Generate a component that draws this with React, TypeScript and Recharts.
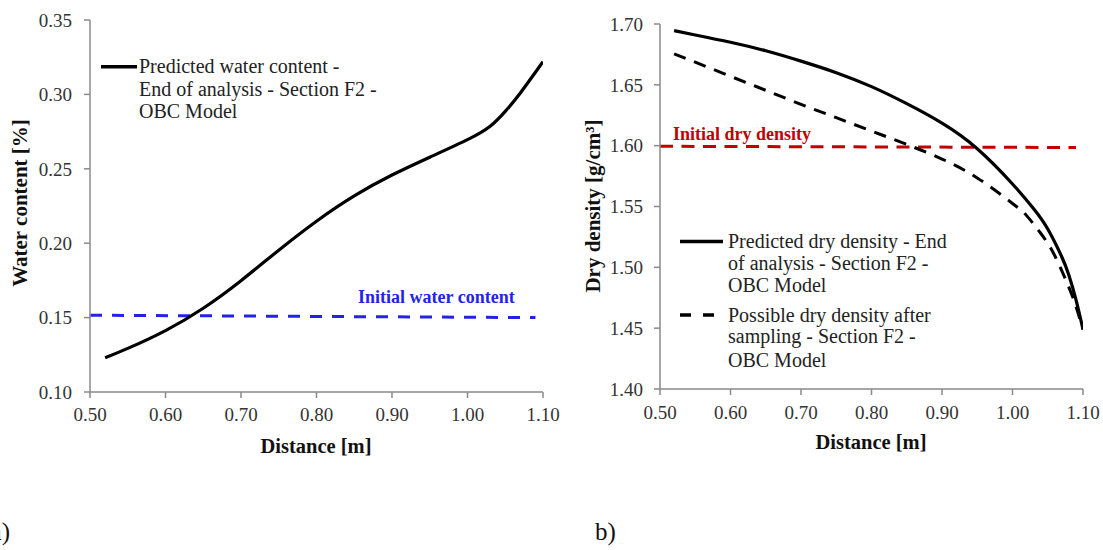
import React from "react";
import { LineChart, Line, XAxis, YAxis } from "recharts";

// a) water content along the distance
const distWater = [0.52, 0.55, 0.6, 0.65, 0.7, 0.75, 0.8, 0.85, 0.9, 0.95, 1.0, 1.03, 1.05, 1.07, 1.1];
const waterPredicted = [0.123, 0.1293, 0.1413, 0.1563, 0.1748, 0.1953, 0.2148, 0.2318, 0.2458, 0.2578, 0.2696, 0.2786, 0.2886, 0.301, 0.322];
const distWaterInit = [0.5, 1.09];
const waterInit = [0.1516, 0.15];

// b) dry density along the distance
const distDensity = [0.52, 0.55, 0.6, 0.65, 0.7, 0.75, 0.8, 0.85, 0.9, 0.95, 1.0, 1.03, 1.05, 1.07, 1.08, 1.09, 1.1];
const densityPredicted = [1.6945, 1.691, 1.685, 1.678, 1.6695, 1.66, 1.6485, 1.6345, 1.6185, 1.5975, 1.5685, 1.5481, 1.5315, 1.5085, 1.4935, 1.4735, 1.449];
const distSampling = [0.52, 0.55, 0.6, 0.65, 0.7, 0.75, 0.8, 0.85, 0.9, 0.95, 1.0, 1.02, 1.04, 1.06, 1.08, 1.09, 1.1];
const densitySampling = [1.6755, 1.6686, 1.657, 1.6455, 1.634, 1.623, 1.612, 1.601, 1.589, 1.5735, 1.5525, 1.5425, 1.528, 1.5095, 1.4835, 1.468, 1.449];
const distDensityInit = [0.5, 1.09];
const densityInit = [1.5995, 1.5985];

// ticks
const distTicks = [0.5, 0.6, 0.7, 0.8, 0.9, 1.0, 1.1];
const distMinor = [0.55, 0.65, 0.75, 0.85, 0.95, 1.05];
const waterTicks = [0.1, 0.15, 0.2, 0.25, 0.3, 0.35];
const waterMinor = [0.125, 0.175, 0.225, 0.275, 0.325];
const densityTicks = [1.4, 1.45, 1.5, 1.55, 1.6, 1.65, 1.7];
const densityMinor = [1.425, 1.475, 1.525, 1.575, 1.625, 1.675];

const FONT = "Liberation Serif, DejaVu Serif, serif";
const AXIS = "#8a8a8a";
const TXT = "#333";
const BLUE = "#2323e8";
const RED = "#c00000";

const toPoints = (xs: number[], ys: number[]) => xs.map((x, i) => ({ x, y: ys[i] }));
const fmt = (v: number) => v.toFixed(2);
const tickStyle = { fill: TXT, fontSize: 19, fontFamily: FONT };

const WaterChart = () => (
  <LineChart width={560} height={550} margin={{ top: 20, right: 17, left: 30, bottom: 128 }} style={{ fontFamily: FONT }}>
    <XAxis xAxisId="main" type="number" dataKey="x" domain={[0.5, 1.1]} ticks={distTicks} tickFormatter={fmt}
      height={30} tickSize={6} tickMargin={10} stroke={AXIS} strokeWidth={1.5} tick={tickStyle} allowDataOverflow />
    <XAxis xAxisId="minor" type="number" dataKey="x" domain={[0.5, 1.1]} ticks={distMinor} mirror height={0}
      tick={false} axisLine={false} tickSize={5} stroke={AXIS} strokeWidth={1.5} allowDataOverflow />
    <XAxis xAxisId="top" orientation="top" type="number" dataKey="x" domain={[0.5, 1.1]} height={0}
      tick={false} tickLine={false} axisLine={{ stroke: "#222", strokeWidth: 1.5 }} allowDataOverflow />
    <YAxis yAxisId="main" type="number" domain={[0.1, 0.35]} ticks={waterTicks} tickFormatter={fmt}
      width={60} tickSize={6} tickMargin={12} stroke={AXIS} strokeWidth={1.5} tick={tickStyle} allowDataOverflow />
    <YAxis yAxisId="minor" type="number" domain={[0.1, 0.35]} ticks={waterMinor} mirror width={0}
      tick={false} axisLine={false} tickSize={5} stroke={AXIS} strokeWidth={1.5} allowDataOverflow />
    <YAxis yAxisId="right" orientation="right" type="number" domain={[0.1, 0.35]} width={0}
      tick={false} tickLine={false} axisLine={{ stroke: "#222", strokeWidth: 1.5 }} allowDataOverflow />
    <Line xAxisId="main" yAxisId="main" data={toPoints(distWaterInit, waterInit)} dataKey="y" type="linear"
      stroke={BLUE} strokeWidth={3} strokeDasharray="12 10" dot={false} isAnimationActive={false} />
    <Line xAxisId="main" yAxisId="main" data={toPoints(distWater, waterPredicted)} dataKey="y" type="natural"
      stroke="#000" strokeWidth={3.2} dot={false} isAnimationActive={false} />
  </LineChart>
);

const DensityChart = () => (
  <LineChart width={543} height={550} margin={{ top: 24, right: 20, left: 40, bottom: 131 }} style={{ fontFamily: FONT }}>
    <XAxis xAxisId="main" type="number" dataKey="x" domain={[0.5, 1.1]} ticks={distTicks} tickFormatter={fmt}
      height={30} tickSize={6} tickMargin={11} stroke={AXIS} strokeWidth={1.5} tick={tickStyle} allowDataOverflow />
    <XAxis xAxisId="minor" type="number" dataKey="x" domain={[0.5, 1.1]} ticks={distMinor} mirror height={0}
      tick={false} axisLine={false} tickSize={5} stroke={AXIS} strokeWidth={1.5} allowDataOverflow />
    <XAxis xAxisId="top" orientation="top" type="number" dataKey="x" domain={[0.5, 1.1]} height={0}
      tick={false} tickLine={false} axisLine={{ stroke: AXIS, strokeWidth: 1.5 }} allowDataOverflow />
    <YAxis yAxisId="main" type="number" domain={[1.4, 1.7]} ticks={densityTicks} tickFormatter={fmt}
      width={60} tickSize={6} tickMargin={11} stroke={AXIS} strokeWidth={1.5} tick={tickStyle} allowDataOverflow />
    <YAxis yAxisId="minor" type="number" domain={[1.4, 1.7]} ticks={densityMinor} mirror width={0}
      tick={false} axisLine={false} tickSize={5} stroke={AXIS} strokeWidth={1.5} allowDataOverflow />
    <YAxis yAxisId="right" orientation="right" type="number" domain={[1.4, 1.7]} width={0}
      tick={false} tickLine={false} axisLine={{ stroke: AXIS, strokeWidth: 1.5 }} allowDataOverflow />
    <Line xAxisId="main" yAxisId="main" data={toPoints(distDensityInit, densityInit)} dataKey="y" type="linear"
      stroke={RED} strokeWidth={3} strokeDasharray="13 8.5" dot={false} isAnimationActive={false} />
    <Line xAxisId="main" yAxisId="main" data={toPoints(distSampling, densitySampling)} dataKey="y" type="natural"
      stroke="#000" strokeWidth={3} strokeDasharray="12.5 9" dot={false} isAnimationActive={false} />
    <Line xAxisId="main" yAxisId="main" data={toPoints(distDensity, densityPredicted)} dataKey="y" type="natural"
      stroke="#000" strokeWidth={3.2} dot={false} isAnimationActive={false} />
  </LineChart>
);

const Overlay = () => (
  <svg width={1103} height={550} style={{ position: "absolute", left: 0, top: 0, pointerEvents: "none", fontFamily: FONT }}>
    {/* axis titles */}
    <text x={27} y={203} transform="rotate(-90 27 203)" textAnchor="middle" fontSize={21} fontWeight="bold" fill="#111">
      Water content [%]
    </text>
    <text x={316} y={452.5} textAnchor="middle" fontSize={20.5} fontWeight="bold" fill="#111">Distance [m]</text>
    <text x={600} y={206} transform="rotate(-90 600 206)" textAnchor="middle" fontSize={21} fontWeight="bold" fill="#111">
      Dry density [g/cm³]
    </text>
    <text x={871} y={448.5} textAnchor="middle" fontSize={20.5} fontWeight="bold" fill="#111">Distance [m]</text>

    {/* reference labels */}
    <text x={358} y={302.5} fontSize={18} fontWeight="bold" fill={BLUE}>Initial water content</text>
    <text x={673} y={140} fontSize={18} fontWeight="bold" fill={RED}>Initial dry density</text>

    {/* legend a) */}
    <line x1={101} y1={66.7} x2={137} y2={66.7} stroke="#000" strokeWidth={3.5} />
    <g fontSize={20} fill="#222">
      <text x={139} y={73.3}>Predicted water content -</text>
      <text x={139} y={95.8}>End of analysis - Section F2 -</text>
      <text x={139} y={118.3}>OBC Model</text>
    </g>

    {/* legend b) */}
    <line x1={680} y1={241.5} x2={723} y2={241.5} stroke="#000" strokeWidth={3.5} />
    <line x1={680} y1={315} x2={723} y2={315} stroke="#000" strokeWidth={3.5} strokeDasharray="11 12" />
    <g fontSize={20} fill="#222">
      <text x={728} y={248.3}>Predicted dry density - End</text>
      <text x={728} y={270}>of analysis - Section F2 -</text>
      <text x={728} y={291.7}>OBC Model</text>
      <text x={728} y={321.7}>Possible dry density after</text>
      <text x={728} y={343.3}>sampling - Section F2 -</text>
      <text x={728} y={366.7}>OBC Model</text>
    </g>

    {/* panel letters */}
    <text x={10} y={540} textAnchor="end" fontSize={25} fill="#111">a)</text>
    <text x={595} y={540} fontSize={25} fill="#111">b)</text>
  </svg>
);

export default function App() {
  return (
    <div style={{ position: "absolute", left: 0, top: 0, width: 1103, height: 550, background: "#fff", overflow: "hidden", fontFamily: FONT }}>
      <div style={{ position: "absolute", left: 0, top: 0 }}>
        <WaterChart />
      </div>
      <div style={{ position: "absolute", left: 560, top: 0 }}>
        <DensityChart />
      </div>
      <Overlay />
    </div>
  );
}
